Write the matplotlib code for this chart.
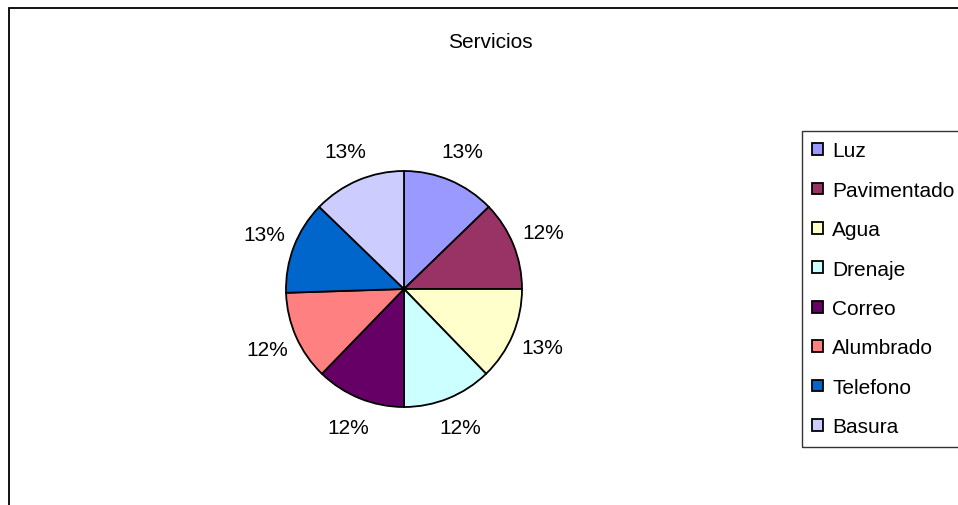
import matplotlib.pyplot as plt
from matplotlib.patches import Rectangle

labels = ['Luz', 'Pavimentado', 'Agua', 'Drenaje', 'Correo', 'Alumbrado', 'Telefono', 'Basura']
values = [25, 24, 25, 24, 24, 24, 25, 25]
colors = ['#9999FF', '#993366', '#FFFFCC', '#CCFFFF', '#660066', '#FF8080', '#0066CC', '#CCCCFF']

plt.rcParams['font.family'] = ['Liberation Sans', 'DejaVu Sans']

W, H = 958, 506
fig = plt.figure(figsize=(W / 100, H / 100), dpi=100)
ax = fig.add_axes([0, 0, 1, 1])

wedges, texts, autotexts = ax.pie(
    values, colors=colors, startangle=90, counterclock=False,
    center=(404, H - 290), radius=118, frame=True,
    autopct='%1.0f%%', pctdistance=1.27,
    wedgeprops=dict(edgecolor='black', linewidth=1.3),
    textprops=dict(fontsize=15, color='black'))
ax.set_xlim(0, W)
ax.set_ylim(0, H)
ax.set_aspect('equal')
ax.axis('off')

fig.text(490 / W, 1 - 42 / H, 'Servicios', ha='center', va='center', fontsize=15)

# chart area border (runs off right and bottom edges)
fig.patches.append(Rectangle((8.5 / W, -0.1), 2, 1.1 - 8.5 / H, transform=fig.transFigure,
                             fill=False, edgecolor='#000000', linewidth=1.3))

leg = ax.legend(wedges, labels, loc='upper left', bbox_to_anchor=(802 / W, 1 - 132 / H),
                bbox_transform=fig.transFigure, fontsize=15, frameon=True, fancybox=False,
                handlelength=0.5, handleheight=0.5, handletextpad=0.45, labelspacing=0.98,
                borderpad=0.5, borderaxespad=0)
leg.get_frame().set_edgecolor('black')
leg.get_frame().set_linewidth(1.0)

fig.savefig('out.png', dpi=100)
